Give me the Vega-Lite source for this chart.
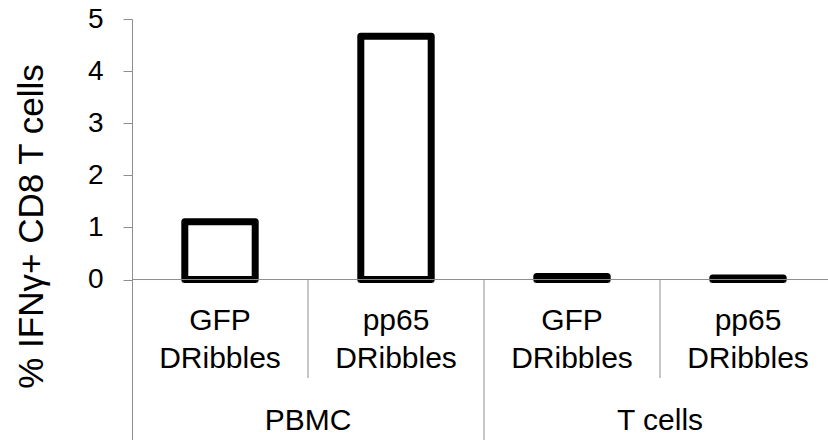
{
  "$schema": "https://vega.github.io/schema/vega-lite/v6.json",
  "width": 696,
  "height": 421,
  "autosize": "none",
  "padding": {"left": 132, "top": 19, "right": 0, "bottom": 0},
  "background": "white",
  "config": {"view": {"stroke": null}, "font": "Liberation Sans"},
  "datasets": {
    "bars": [
      {"key": "PBMC GFP", "label": "GFP\nDRibbles", "value": 1.11},
      {"key": "PBMC pp65", "label": "pp65\nDRibbles", "value": 4.67},
      {"key": "T GFP", "label": "GFP\nDRibbles", "value": 0.06},
      {"key": "T pp65", "label": "pp65\nDRibbles", "value": 0.03}
    ],
    "groups": [
      {"key": "PBMC pp65", "group": "PBMC"},
      {"key": "T pp65", "group": "T cells"}
    ],
    "shortSeps": [{"key": "PBMC pp65"}, {"key": "T pp65"}],
    "longSeps": [{"key": "T GFP"}],
    "one": [{"k": 1}]
  },
  "layer": [
    {
      "data": {"name": "bars"},
      "mark": {"type": "bar", "fill": "white", "stroke": "black", "strokeWidth": 7, "strokeJoin": "round", "width": {"band": 0.4}, "y2Offset": -3.5},
      "encoding": {
        "x": {"field": "key", "type": "nominal", "sort": null, "scale": {"domain": ["PBMC GFP", "PBMC pp65", "T GFP", "T pp65"], "range": [0, 704], "paddingInner": 0, "paddingOuter": 0}, "axis": null},
        "y": {"field": "value", "type": "quantitative", "scale": {"domain": [-3.08, 5], "nice": false, "zero": false},
          "axis": {"values": [0, 1, 2, 3, 4, 5], "grid": false, "tickSize": 9, "tickColor": "#8e8e8e", "domainColor": "#8e8e8e", "tickWidth": 1, "domainWidth": 1,
            "labelFontSize": 28, "labelColor": "black", "labelPadding": 20,
            "title": "% IFNγ+ CD8 T cells", "titleFontSize": 35, "titleFontWeight": "normal", "titleColor": "black",
            "titleAngle": 270, "titleAlign": "center", "titleBaseline": "alphabetic", "titleX": -90, "titleY": 207}
        }
      }
    },
    {
      "data": {"name": "one"},
      "mark": {"type": "rule", "color": "#8e8e8e", "strokeWidth": 1},
      "encoding": {"y": {"datum": 0, "type": "quantitative"}}
    },
    {
      "data": {"name": "shortSeps"},
      "mark": {"type": "rule", "color": "#8e8e8e", "strokeWidth": 1},
      "encoding": {
        "x": {"field": "key", "type": "nominal", "bandPosition": 0},
        "y": {"datum": 0, "type": "quantitative"},
        "y2": {"datum": -1.89}
      }
    },
    {
      "data": {"name": "longSeps"},
      "mark": {"type": "rule", "color": "#8e8e8e", "strokeWidth": 1},
      "encoding": {
        "x": {"field": "key", "type": "nominal", "bandPosition": 0},
        "y": {"datum": 0, "type": "quantitative"},
        "y2": {"datum": -3.08}
      }
    },
    {
      "data": {"name": "bars"},
      "mark": {"type": "text", "fontSize": 30, "align": "center", "baseline": "alphabetic", "lineBreak": "\n", "lineHeight": 38, "color": "black"},
      "encoding": {
        "x": {"field": "key", "type": "nominal"},
        "y": {"datum": -0.97, "type": "quantitative"},
        "text": {"field": "label"}
      }
    },
    {
      "data": {"name": "groups"},
      "mark": {"type": "text", "fontSize": 30, "align": "center", "baseline": "alphabetic", "color": "black"},
      "encoding": {
        "x": {"field": "key", "type": "nominal", "bandPosition": 0},
        "y": {"datum": -2.88, "type": "quantitative"},
        "text": {"field": "group"}
      }
    }
  ]
}
